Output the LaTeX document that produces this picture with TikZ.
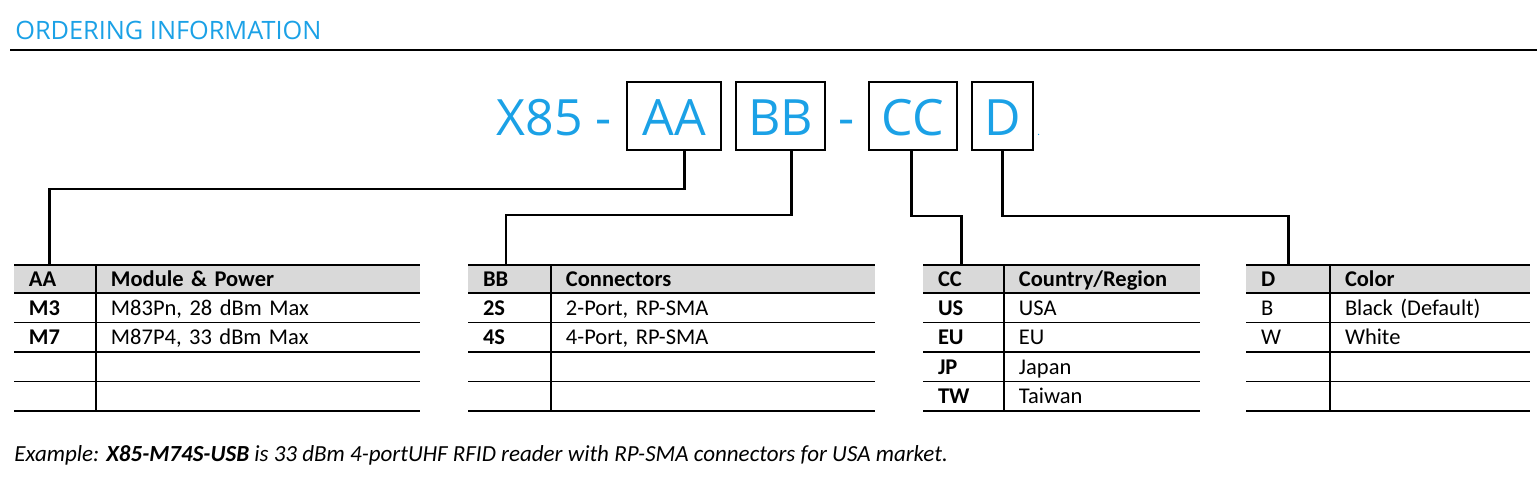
\documentclass[tikz,border=0pt]{standalone}
\usepackage{fontspec}
\setmainfont{Carlito}
\newfontfamily\headfont{Open Sans}
\usetikzlibrary{positioning, calc}

\definecolor{brandblue}{HTML}{1BA1E6}
\definecolor{headgray}{HTML}{D9D9D9}
\newcommand{\tabfont}{\fontsize{12.8}{15}\selectfont}
\newcommand{\bigfont}{\headfont\fontsize{28.5}{34}\selectfont}

% #1 prefix, #2 top left, #3/#4 text widths, #5 key font, #6/#7 header, #8 rows
\newcommand{\ordertable}[8]{%
  \node[cell, head, text width=#3, anchor=north west] (#1K0) at #2 {#6};
  \node[cell, head, text width=#4, right=0pt of #1K0] (#1V0) {#7};
  \foreach \k/\v [count=\i] in {#8} {
    \pgfmathtruncatemacro{\j}{\i-1}
    \node[cell, row, text width=#3, below=0pt of #1K\j, font={\tabfont#5}] (#1K\i) {\k};
    \node[cell, row, text width=#4, right=0pt of #1K\i] (#1V\i) {\v};
  }
  \draw[rule] (#1K0.north west) -- (#1V0.north east);
  \foreach \i in {0,...,4} \draw[rule] (#1K\i.south west) -- (#1V\i.south east);
  \draw[rule] (#1V0.north west) -- (#1V4.south west);
}

\begin{document}
\begin{tikzpicture}[x=0.02cm, y=-0.02cm,
    cell/.style={rectangle, inner xsep=0.3cm, inner ysep=0pt, outer sep=0pt,
      align=left, text height=8.3pt, text depth=0pt, font=\tabfont},
    head/.style={fill=headgray, minimum height=0.56cm, font=\tabfont\bfseries},
    row/.style={minimum height=0.59cm},
    rule/.style={draw=black, line width=0.6pt},
    bigtext/.style={font=\bigfont, text=brandblue, inner sep=0pt, outer sep=0pt,
      text height=22.7pt, text depth=0pt},
    codebox/.style={bigtext, draw=black, line width=0.9pt, minimum height=1.36cm},
    link/.style={draw=black, line width=1.7pt}
  ]
  \useasboundingbox (0,0) rectangle (1537,477);

  % title
  \node[font=\headfont\fontsize{14.4}{17}\selectfont, text=brandblue, inner sep=0pt,
    anchor=base west] (title) at (15,39) {ORDERING INFORMATION};
  \coordinate (ruleL) at (10,50);
  \coordinate (ruleR) at (1537,50);
  \draw[line width=0.9pt] (ruleL) -- (ruleR);

  % part number
  \node[codebox, minimum width=1.88cm] (bAA) at (674,116) {AA};
  \node[bigtext, left=0.3cm of bAA] (x85) {X85 -};
  \node[codebox, minimum width=1.78cm, right=0.3cm of bAA] (bBB) {BB};
  \node[codebox, minimum width=1.76cm, right=0.88cm of bBB] (bCC) {CC};
  \node[bigtext] (dash) at ($(bBB.east)!0.5!(bCC.west)$) {-};
  \node[codebox, minimum width=1.22cm, right=0.3cm of bCC] (bD) {D};
  \node[font=\fontsize{6}{7}\selectfont, text=brandblue, inner sep=0pt,
    anchor=base west] (dot) at ([xshift=0.08cm, yshift=-0.38cm]bD.east) {.};

  % tables
  \ordertable{aa}{(14,265)}{1.04cm}{5.88cm}{\bfseries}{AA}{Module \& Power}
    {M3/{M83Pn, 28 dBm Max}, M7/{M87P4, 33 dBm Max}, {}/{}, {}/{}}
  \ordertable{bb}{(468,265)}{1.06cm}{5.88cm}{\bfseries}{BB}{Connectors}
    {2S/{2-Port, RP-SMA}, 4S/{4-Port, RP-SMA}, {}/{}, {}/{}}
  \ordertable{cc}{(923,265)}{1.02cm}{3.32cm}{\bfseries}{CC}{Country/Region}
    {US/USA, EU/EU, JP/Japan, TW/Taiwan}
  \ordertable{dd}{(1246,265)}{1.08cm}{3.40cm}{}{D}{Color}
    {B/{Black (Default)}, W/White, {}/{}, {}/{}}

  % connectors
  \draw[link] ([xshift=0.2cm]bAA.south) -- ++(0,39) -| ([xshift=-0.1cm]aaK0.north);
  \draw[link] ([xshift=0.23cm]bBB.south) -- ++(0,65) -| ([xshift=-0.07cm]bbK0.north);
  \draw[link] ([xshift=-0.02cm]bCC.south) -- ++(0,66) -| ([xshift=-0.05cm]ccK0.north);
  \draw[link] (bD.south) -- ++(0,66) -| (ddK0.north);

  % example
  \node[font=\fontsize{13.1}{15}\selectfont\itshape, inner sep=0pt, anchor=base west] (example) at (14,461)
    {Example: \textbf{X85-M74S-USB} is 33 dBm 4-portUHF RFID reader with RP-SMA connectors for USA market.};
\end{tikzpicture}
\end{document}
